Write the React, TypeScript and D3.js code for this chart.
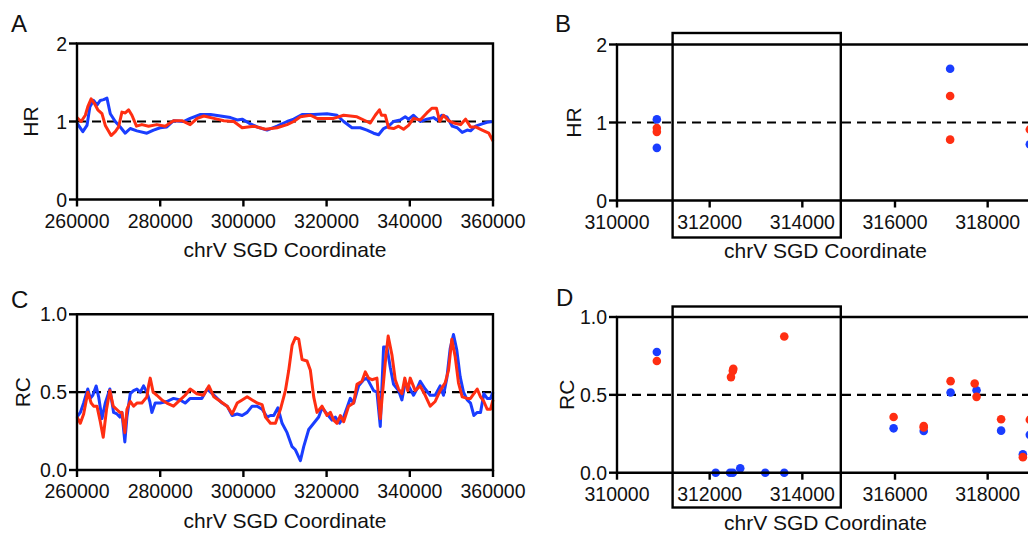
import React from 'react'
import * as d3 from 'd3'

const BLUE = '#1a3dff'
const RED = '#ff2e12'
const FONT = 'Arial, "Liberation Sans", Helvetica, sans-serif'

// A: HR along chrV (sliding window), two strains
const hrBlue: [number, number][] = [
  [260000, 0.98], [261400, 0.87], [262400, 0.95], [263100, 1.19], [264000, 1.27], [264800, 1.21],
  [265600, 1.27], [266400, 1.28], [267200, 1.3], [268000, 1.1], [269200, 1.0], [270400, 0.93],
  [271600, 0.85], [272800, 0.91], [274400, 0.88], [276800, 0.85], [278400, 0.89], [280000, 0.92],
  [281600, 0.93], [283200, 1.01], [285600, 1.0], [287200, 1.04], [289700, 1.09], [292100, 1.09],
  [294500, 1.07], [296900, 1.05], [298500, 1.02], [299700, 1.03], [301300, 0.98], [303300, 0.93],
  [305700, 0.89], [308100, 0.94], [310500, 1.0], [312100, 1.03], [314100, 1.09], [316900, 1.09],
  [320100, 1.1], [322500, 1.08], [324100, 1.0], [326100, 0.92], [328100, 0.92], [329700, 0.89],
  [331300, 0.85], [332500, 0.83], [333700, 0.91], [334900, 0.94], [336100, 1.0], [337700, 1.02],
  [338900, 1.06], [339700, 1.03], [340900, 1.08], [342500, 1.0], [344100, 1.03], [345700, 1.05],
  [346500, 1.02], [347700, 1.08], [348900, 1.06], [350200, 0.94], [351400, 0.92], [352600, 0.86],
  [353800, 0.89], [354600, 0.88], [355800, 0.94], [357400, 0.97], [358600, 0.99], [360000, 1.0],
]
const hrRed: [number, number][] = [
  [260000, 1.05], [261000, 1.0], [262000, 1.08], [262600, 1.19], [263400, 1.29], [264200, 1.23],
  [265000, 1.15], [266000, 1.1], [266800, 0.95], [268200, 0.82], [269200, 0.87], [270000, 0.93],
  [270800, 1.12], [271600, 1.11], [272400, 1.15], [273200, 1.08], [274300, 0.94], [275600, 0.96],
  [277200, 0.94], [279200, 0.96], [281200, 0.94], [283200, 1.01], [285200, 1.01], [287200, 0.96],
  [288900, 1.04], [290500, 1.07], [292900, 1.04], [295300, 1.01], [297700, 1.0], [299700, 0.92],
  [302500, 0.94], [305300, 0.9], [308100, 0.92], [310500, 0.96], [312100, 1.0], [313700, 1.06],
  [316100, 1.08], [317700, 1.04], [319700, 1.04], [321700, 1.04], [324100, 1.08], [327300, 1.06],
  [329700, 1.0], [330500, 0.98], [331700, 1.08], [332700, 1.15], [333200, 1.08], [334100, 1.08],
  [334900, 0.92], [336100, 0.91], [337300, 0.94], [338500, 0.9], [339700, 0.95], [340900, 1.04],
  [342500, 1.02], [344100, 1.11], [345300, 1.17], [346400, 1.17], [347200, 1.0], [348100, 1.08],
  [349300, 1.01], [350600, 0.98], [352200, 0.96], [353400, 1.03], [354600, 0.93], [355800, 0.93],
  [357400, 0.89], [359000, 0.85], [360000, 0.75],
]

// C: RC along chrV
const rcBlue: [number, number][] = [
  [260000, 0.34], [260800, 0.37], [261600, 0.43], [262600, 0.52], [263200, 0.46], [263800, 0.48],
  [264600, 0.54], [265200, 0.47], [266000, 0.33], [266800, 0.43], [267900, 0.52], [268800, 0.37],
  [269600, 0.36], [270300, 0.34], [270800, 0.37], [271500, 0.18], [272000, 0.34], [272800, 0.49],
  [273600, 0.51], [274400, 0.52], [275200, 0.5], [276000, 0.54], [276800, 0.5], [277500, 0.44],
  [278000, 0.37], [278800, 0.43], [280000, 0.43], [281600, 0.44], [283200, 0.46], [284800, 0.45],
  [286000, 0.43], [287200, 0.46], [288800, 0.46], [290000, 0.46], [291300, 0.52], [292500, 0.49],
  [293700, 0.46], [294900, 0.43], [296100, 0.41], [297300, 0.35], [298500, 0.36], [299700, 0.35],
  [300900, 0.37], [302100, 0.41], [303300, 0.41], [304500, 0.39], [305700, 0.34], [306500, 0.35],
  [307300, 0.35], [308300, 0.4], [309300, 0.3], [310500, 0.24], [311700, 0.15], [312500, 0.13],
  [313700, 0.06], [314500, 0.15], [315700, 0.26], [316900, 0.3], [318100, 0.34], [318900, 0.4],
  [320100, 0.36], [321300, 0.32], [322100, 0.34], [323100, 0.3], [324100, 0.34], [324900, 0.4],
  [325700, 0.46], [326500, 0.43], [327700, 0.54], [328900, 0.58], [329700, 0.59], [330500, 0.55],
  [331300, 0.51], [332100, 0.5], [332900, 0.28], [333700, 0.79], [334500, 0.79], [335300, 0.66],
  [336100, 0.55], [337300, 0.51], [338100, 0.45], [338900, 0.56], [339700, 0.54], [340900, 0.48],
  [341700, 0.52], [342500, 0.57], [343700, 0.52], [344900, 0.48], [346100, 0.48], [347300, 0.54],
  [348100, 0.48], [348900, 0.59], [349700, 0.78], [350500, 0.87], [351300, 0.77], [352100, 0.6],
  [352900, 0.5], [353800, 0.45], [354600, 0.43], [355400, 0.35], [356200, 0.37], [357000, 0.37],
  [357800, 0.49], [358600, 0.46], [359400, 0.46], [360000, 0.5],
]
const rcRed: [number, number][] = [
  [260000, 0.34], [260800, 0.3], [261600, 0.36], [262600, 0.5], [263400, 0.43], [264000, 0.41],
  [264800, 0.41], [265600, 0.31], [266300, 0.21], [267100, 0.39], [267900, 0.51], [268700, 0.41],
  [269500, 0.39], [270300, 0.37], [270800, 0.37], [271500, 0.24], [272000, 0.39], [272800, 0.44],
  [273600, 0.41], [274400, 0.43], [275600, 0.43], [276800, 0.47], [277200, 0.54], [277600, 0.59],
  [278300, 0.5], [279200, 0.48], [280400, 0.45], [281600, 0.43], [283200, 0.41], [284800, 0.45],
  [286000, 0.48], [287200, 0.52], [288800, 0.49], [290400, 0.48], [291700, 0.54], [292900, 0.47],
  [294500, 0.44], [296100, 0.41], [297300, 0.36], [298500, 0.43], [299700, 0.45], [300900, 0.47],
  [302100, 0.45], [303300, 0.43], [304500, 0.42], [305300, 0.34], [306500, 0.3], [307700, 0.3],
  [308900, 0.39], [310100, 0.51], [310900, 0.64], [311700, 0.8], [312500, 0.85], [313300, 0.84],
  [314100, 0.71], [315300, 0.7], [316100, 0.64], [316900, 0.47], [317700, 0.37], [318900, 0.41],
  [320100, 0.35], [320900, 0.37], [321700, 0.32], [322500, 0.3], [323300, 0.35], [324100, 0.31],
  [325300, 0.41], [326500, 0.43], [327300, 0.55], [328500, 0.57], [329300, 0.63], [330100, 0.59],
  [330900, 0.58], [332100, 0.59], [332900, 0.33], [334100, 0.69], [334800, 0.86], [335700, 0.74],
  [336500, 0.58], [337300, 0.52], [338100, 0.49], [338800, 0.59], [339500, 0.51], [340100, 0.59],
  [341300, 0.51], [342500, 0.54], [343700, 0.48], [344900, 0.41], [346100, 0.44], [347300, 0.51],
  [348500, 0.56], [349300, 0.64], [350100, 0.84], [350900, 0.73], [351700, 0.56], [352600, 0.47],
  [353800, 0.46], [354600, 0.46], [355400, 0.49], [356200, 0.52], [357000, 0.47], [357800, 0.44],
  [358600, 0.39], [359400, 0.39], [360000, 0.45],
]

// B, D: single markers in the zoomed window
const hrDotsBlue: [number, number][] = [[310860, 1.04], [310860, 0.675], [317190, 1.69], [318910, 0.72]]
const hrDotsRed: [number, number][] = [[310860, 0.93], [310860, 0.88], [317190, 1.34], [317190, 0.78], [318910, 0.91]]
const rcDotsBlue: [number, number][] = [
  [310860, 0.775], [312130, 0], [312440, 0], [312500, 0], [312660, 0.028], [313200, 0], [313610, 0],
  [315970, 0.285], [316620, 0.268], [317200, 0.515], [317760, 0.53], [318290, 0.27], [318760, 0.118], [318910, 0.243],
]
const rcDotsRed: [number, number][] = [
  [310860, 0.717], [312460, 0.614], [312500, 0.654], [312510, 0.667], [313610, 0.875], [315970, 0.358],
  [316620, 0.3], [316620, 0.29], [317200, 0.588], [317720, 0.573], [317760, 0.487], [318290, 0.343],
  [318760, 0.1], [318910, 0.34],
]

const wideTicks = [260000, 280000, 300000, 320000, 340000, 360000]
const zoomTicks = [310000, 312000, 314000, 316000, 318000]
const hrTicks = [0, 1, 2]
const rcTicks = [0, 0.5, 1]
const boxedRegion = [311200, 314830]
const xTitle = 'chrV SGD Coordinate'

type PanelProps = {
  letter: string
  letterPos: [number, number]
  left: number
  right: number
  top: number
  bottom: number
  xDomain: [number, number]
  yDomain: [number, number]
  xTicks: number[]
  yTicks: number[]
  yFmt: (v: number) => string
  yTitle: string
  yTitleX: number
  refY: number
  lines?: { data: [number, number][]; color: string }[]
  dots?: { data: [number, number][]; color: string }[]
  box?: { x: number[]; top: number; bottom: number }
}

function Panel(p: PanelProps) {
  const x = d3.scaleLinear().domain(p.xDomain).range([p.left, p.right])
  const y = d3.scaleLinear().domain(p.yDomain).range([p.bottom, p.top])
  const line = d3
    .line<[number, number]>()
    .x((d) => x(d[0]))
    .y((d) => y(d[1]))
  const midX = (p.left + p.right) / 2
  return (
    <g fontFamily={FONT} fill="#111">
      <text x={p.letterPos[0]} y={p.letterPos[1]} fontSize={24}>
        {p.letter}
      </text>
      {/* reference level */}
      <line x1={p.left} x2={p.right} y1={y(p.refY)} y2={y(p.refY)} stroke="#000" strokeWidth={2.2} strokeDasharray="9 6" />
      {p.lines?.map((s, i) => (
        <path key={i} d={line(s.data) ?? ''} fill="none" stroke={s.color} strokeWidth={3} strokeLinejoin="round" />
      ))}
      {p.dots?.map((s, i) =>
        s.data.map((d, j) => <circle key={`${i}-${j}`} cx={x(d[0])} cy={y(d[1])} r={4.3} fill={s.color} />)
      )}
      {/* frame */}
      <path
        d={`M${p.left},${p.top}H${p.right}V${p.bottom}H${p.left}Z`}
        fill="none"
        stroke="#000"
        strokeWidth={2.4}
      />
      {p.yTicks.map((t) => (
        <g key={t}>
          <line x1={p.left - 8} x2={p.left} y1={y(t)} y2={y(t)} stroke="#000" strokeWidth={2.4} />
          <text x={p.left - 10} y={y(t)} dy="0.36em" textAnchor="end" fontSize={19.5}>
            {p.yFmt(t)}
          </text>
        </g>
      ))}
      {p.xTicks.map((t) => (
        <g key={t}>
          <line x1={x(t)} x2={x(t)} y1={p.bottom} y2={p.bottom + 7} stroke="#000" strokeWidth={2.4} />
          <text x={x(t)} y={p.bottom + 28} textAnchor="middle" fontSize={19.5}>
            {t}
          </text>
        </g>
      ))}
      <text x={midX} y={p.bottom + 57.5} textAnchor="middle" fontSize={21}>
        {xTitle}
      </text>
      <text
        transform={`translate(${p.yTitleX},${(p.top + p.bottom) / 2}) rotate(-90)`}
        textAnchor="middle"
        dy="0.36em"
        fontSize={21}
      >
        {p.yTitle}
      </text>
      {p.box && (
        <rect
          x={x(p.box.x[0])}
          y={p.box.top}
          width={x(p.box.x[1]) - x(p.box.x[0])}
          height={p.box.bottom - p.box.top}
          fill="none"
          stroke="#000"
          strokeWidth={2.4}
        />
      )}
    </g>
  )
}

const fmtInt = (v: number) => d3.format('d')(v)
const fmt1 = (v: number) => d3.format('.1f')(v)

export default function App() {
  return (
    <svg
      width={1028}
      height={538}
      style={{ position: 'absolute', left: 0, top: 0, background: '#fff' }}
    >
      <Panel
        letter="A"
        letterPos={[11, 32]}
        left={77}
        right={493}
        top={43.5}
        bottom={199.5}
        xDomain={[260000, 360000]}
        yDomain={[0, 2]}
        xTicks={wideTicks}
        yTicks={hrTicks}
        yFmt={fmtInt}
        yTitle="HR"
        yTitleX={30}
        refY={1}
        lines={[
          { data: hrBlue, color: BLUE },
          { data: hrRed, color: RED },
        ]}
      />
      <Panel
        letter="B"
        letterPos={[555, 32]}
        left={617}
        right={1034}
        top={44.5}
        bottom={200.5}
        xDomain={[310000, 319000]}
        yDomain={[0, 2]}
        xTicks={zoomTicks}
        yTicks={hrTicks}
        yFmt={fmtInt}
        yTitle="HR"
        yTitleX={573.5}
        refY={1}
        dots={[
          { data: hrDotsBlue, color: BLUE },
          { data: hrDotsRed, color: RED },
        ]}
        box={{ x: boxedRegion, top: 33, bottom: 237.5 }}
      />
      <Panel
        letter="C"
        letterPos={[11, 308]}
        left={77}
        right={493}
        top={314.3}
        bottom={470}
        xDomain={[260000, 360000]}
        yDomain={[0, 1]}
        xTicks={wideTicks}
        yTicks={rcTicks}
        yFmt={fmt1}
        yTitle="RC"
        yTitleX={22.5}
        refY={0.5}
        lines={[
          { data: rcBlue, color: BLUE },
          { data: rcRed, color: RED },
        ]}
      />
      <Panel
        letter="D"
        letterPos={[556, 306]}
        left={617}
        right={1034}
        top={317}
        bottom={472.7}
        xDomain={[310000, 319000]}
        yDomain={[0, 1]}
        xTicks={zoomTicks}
        yTicks={rcTicks}
        yFmt={fmt1}
        yTitle="RC"
        yTitleX={566}
        refY={0.5}
        dots={[
          { data: rcDotsBlue, color: BLUE },
          { data: rcDotsRed, color: RED },
        ]}
        box={{ x: boxedRegion, top: 306.5, bottom: 507.5 }}
      />
    </svg>
  )
}
